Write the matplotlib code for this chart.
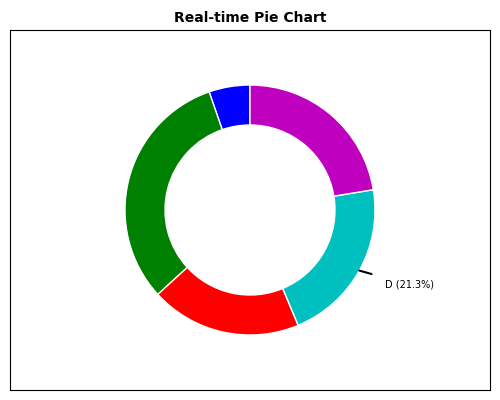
import matplotlib
matplotlib.use("Agg")
import matplotlib.pyplot as plt
import numpy as np

# slice data
labels = ["A", "B", "C", "D", "E"]
values = [5.3, 31.5, 19.5, 21.3, 22.4]
colors = ["b", "g", "r", "c", "m"]
highlight = "D"

fig = plt.figure(figsize=(5, 4), dpi=100)
ax = fig.add_axes([0.02, 0.025, 0.96, 0.9])

wedges, _ = ax.pie(values, colors=colors, startangle=90, counterclock=True,
                   radius=1, frame=True,
                   wedgeprops=dict(width=0.32, edgecolor="white", linewidth=1))

ax.set_aspect("equal")
ax.set_xlim(-1.92, 1.92)
ax.set_ylim(-1.44, 1.44)
ax.set_xticks([])
ax.set_yticks([])
for s in ax.spines.values():
    s.set_color("black")
    s.set_linewidth(0.8)

# annotate highlighted slice
i = labels.index(highlight)
w = wedges[i]
ang = np.deg2rad((w.theta1 + w.theta2) / 2)
x, y = np.cos(ang), np.sin(ang)
pct = values[i] / sum(values) * 100
ax.annotate(f"{highlight} ({pct:.1f}%)", xy=(x, y), xytext=(1.235 * x, 1.235 * y),
            ha="left", va="center", fontsize=7,
            arrowprops=dict(arrowstyle="-", color="black", lw=1.5, shrinkA=8, shrinkB=0))

ax.set_title("Real-time Pie Chart", fontsize=10, fontweight="bold", pad=6)

fig.savefig("out.png", dpi=100)
